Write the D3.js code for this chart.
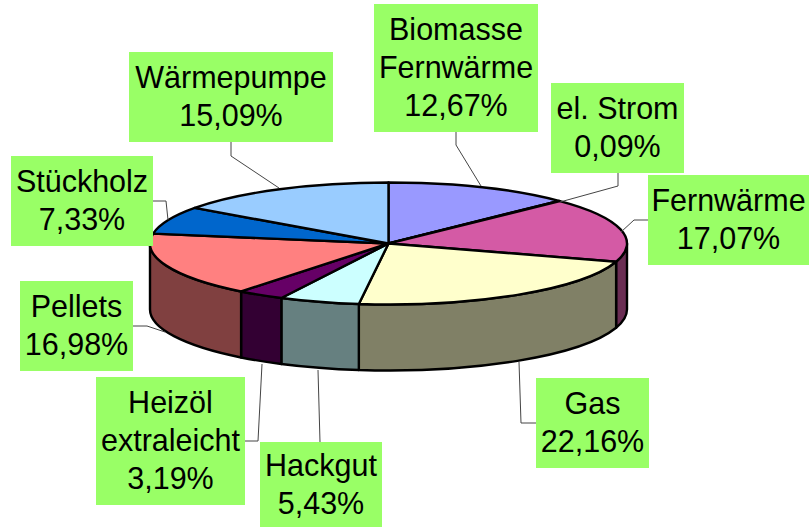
<!DOCTYPE html>
<html>
<head>
<meta charset="utf-8">
<script src="https://cdnjs.cloudflare.com/ajax/libs/d3/7.8.5/d3.min.js"></script>
<style>
  html, body { margin: 0; padding: 0; background: #fff; overflow: hidden; }
  svg { display: block; }
  text { font-family: "Liberation Sans", Arial, sans-serif; font-size: 30.5px; fill: #000; }
</style>
</head>
<body>
<div id="chart"></div>
<script>
let width = 809,
    height = 528

// slices in clockwise order, starting at the top of the pie
let categories = ["Biomasse Fernwärme", "el. Strom", "Fernwärme", "Gas", "Hackgut", "Heizöl extraleicht", "Pellets", "Stückholz", "Wärmepumpe"]
let values = [12.67, 0.09, 17.07, 22.16, 5.43, 3.19, 16.98, 7.33, 15.09]
let valueLabels = ["12,67%", "0,09%", "17,07%", "22,16%", "5,43%", "3,19%", "16,98%", "7,33%", "15,09%"]
let colors = ["#9999FF", "#FF00FF", "#D45AA5", "#FFFFCC", "#CCFFFF", "#660066", "#FF8080", "#0066CC", "#99CCFF"]

// label wrapping
let labelLines = [["Biomasse", "Fernwärme"], ["el. Strom"], ["Fernwärme"], ["Gas"], ["Hackgut"], ["Heizöl", "extraleicht"], ["Pellets"], ["Stückholz"], ["Wärmepumpe"]]

// label boxes: x0, y0, x1, y1
let labelBoxes = [
  [374, 4, 538, 132],
  [551, 83, 684, 173],
  [648, 175, 809, 265],
  [536, 378, 649, 468],
  [260, 442, 382, 527],
  [96, 377, 245, 505],
  [20, 281, 133, 371],
  [11, 156, 153, 246],
  [129, 52, 333, 142]
]

// leader lines from label box to pie edge
let leaders = [
  [[456, 132], [456, 145], [481, 186]],
  [[618, 173], [618, 186], [560, 202]],
  [[648, 220], [634, 220], [621, 232]],
  [[536, 423], [521, 423], [519, 362]],
  [[320, 442], [318, 370]],
  [[245, 441], [258, 441], [262, 364]],
  [[133, 326], [147, 326], [165, 332]],
  [[153, 201], [166, 201], [168, 220]],
  [[231, 142], [231, 156], [279, 188]]
]

let cx = 388.5,
    cy = 243.5,
    rx = 238.5,
    ry = 61,
    depth = 66

let svg = d3.select("#chart").append("svg")
  .attr("width", width)
  .attr("height", height)

let pie = d3.pie().sort(null).value(d => d)
let slices = pie(values).map((d, i) => Object.assign(d, { i: i }))

// position on the top ellipse for a pie angle
function px(a) { return cx + rx * Math.sin(a) }
function py(a) { return cy - ry * Math.cos(a) }

function topPath(d) {
  let large = d.endAngle - d.startAngle > Math.PI ? 1 : 0
  return `M${cx},${cy}L${px(d.startAngle)},${py(d.startAngle)}` +
    `A${rx},${ry} 0 ${large} 1 ${px(d.endAngle)},${py(d.endAngle)}Z`
}

// only the front half of the rim is visible
function sidePath(d) {
  let a0 = Math.max(d.startAngle, Math.PI / 2)
  let a1 = Math.min(d.endAngle, Math.PI * 1.5)
  if (a1 <= a0) return null
  return `M${px(a0)},${py(a0)}A${rx},${ry} 0 0 1 ${px(a1)},${py(a1)}` +
    `L${px(a1)},${py(a1) + depth}A${rx},${ry} 0 0 0 ${px(a0)},${py(a0) + depth}Z`
}

function halfColor(c) {
  let rgb = d3.rgb(c)
  return d3.rgb(rgb.r * 0.5, rgb.g * 0.5, rgb.b * 0.5).formatHex()
}

svg.append("g").selectAll("path")
  .data(slices.filter(d => sidePath(d)))
  .enter().append("path")
  .attr("d", sidePath)
  .attr("fill", d => halfColor(colors[d.i]))
  .attr("stroke", "#000")
  .attr("stroke-width", 2.4)
  .attr("stroke-linejoin", "round")

svg.append("g").selectAll("path")
  .data(slices)
  .enter().append("path")
  .attr("d", topPath)
  .attr("fill", d => colors[d.i])
  .attr("stroke", "#000")
  .attr("stroke-width", 2.4)
  .attr("stroke-linejoin", "round")

svg.append("g").selectAll("path")
  .data(leaders)
  .enter().append("path")
  .attr("d", d3.line())
  .attr("fill", "none")
  .attr("stroke", "#444")
  .attr("stroke-width", 1)

let labels = svg.append("g").selectAll("g")
  .data(categories)
  .enter().append("g")

labels.append("rect")
  .attr("x", (d, i) => labelBoxes[i][0])
  .attr("y", (d, i) => labelBoxes[i][1])
  .attr("width", (d, i) => labelBoxes[i][2] - labelBoxes[i][0])
  .attr("height", (d, i) => labelBoxes[i][3] - labelBoxes[i][1])
  .attr("fill", "#99FF66")

let lineHeight = 38

labels.each(function(d, i) {
  let rows = labelLines[i].concat(valueLabels[i])
  let box = labelBoxes[i]
  let first = (box[1] + box[3]) / 2 - (rows.length - 1) * lineHeight / 2 + 10
  d3.select(this).selectAll("text")
    .data(rows)
    .enter().append("text")
    .attr("x", (box[0] + box[2]) / 2)
    .attr("y", (r, j) => first + j * lineHeight)
    .attr("text-anchor", "middle")
    .text(r => r)
})
</script>
</body>
</html>
